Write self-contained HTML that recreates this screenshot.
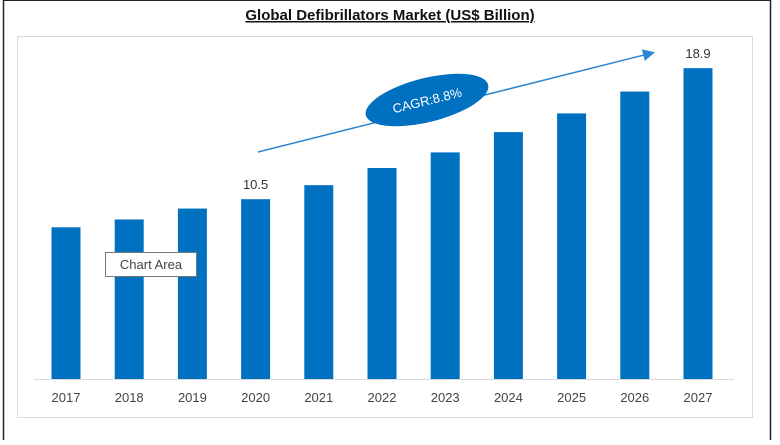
<!DOCTYPE html>
<html><head><meta charset="utf-8"><style>
body{margin:0;background:#fff;font-family:"Liberation Sans",sans-serif}
</style></head><body>
<svg width="780" height="440" xmlns="http://www.w3.org/2000/svg">
<line x1="3.5" y1="0" x2="3.5" y2="440" stroke="#222" stroke-width="1.5"/>
<line x1="770.5" y1="0" x2="770.5" y2="440" stroke="#222" stroke-width="1.5"/>
<line x1="3" y1="0.5" x2="771" y2="0.5" stroke="#222"/>
<rect x="17.5" y="36.5" width="735" height="381" fill="#fff" stroke="#d9d9d9"/>
<text x="390" y="20" text-anchor="middle" font-size="15" font-weight="bold" fill="#111" text-decoration="underline">Global Defibrillators Market (US$ Billion)</text>
<line x1="34" y1="379.5" x2="734" y2="379.5" stroke="#d9d9d9"/>
<g id="bars"></g>
<defs><marker id="ah" markerWidth="8" markerHeight="8" refX="6" refY="4" orient="auto"><path d="M0,0 L8,4 L0,8 z" fill="#2e86d0"/></marker></defs>
<line x1="258" y1="152" x2="652" y2="53" stroke="#2e86d0" stroke-width="1.5" marker-end="url(#ah)"/>
<ellipse cx="427" cy="100" rx="63" ry="22" fill="#0070c0" transform="rotate(-14 427 100)"/>
<text x="427" y="105" text-anchor="middle" font-size="13" fill="#fff" transform="rotate(-14 427 100)">CAGR:8.8%</text>
<g>
<rect x="105.5" y="252.5" width="91" height="24" fill="#fff" stroke="#777"/>
<text x="151" y="269" text-anchor="middle" font-size="13" fill="#444">Chart Area</text>
</g>
</svg>
<script>
const years=["2017","2018","2019","2020","2021","2022","2023","2024","2025","2026","2027"];
const values=[8.7,9.2,9.9,10.5,11.4,12.5,13.5,14.8,16.0,17.4,18.9];
const labeledValues=["","","","10.5","","","","","","","18.9"];
const NS="http://www.w3.org/2000/svg";
const base=379, pxPer=15.6, off=16;
function xC(i){return 66+i*63.2;}
function yV(v){return base-(off+v*pxPer);}
const g=document.getElementById('bars');
years.forEach((y,i)=>{
 const r=document.createElementNS(NS,'rect');
 r.setAttribute('x',xC(i)-14.5);r.setAttribute('y',yV(values[i]));
 r.setAttribute('width',29);r.setAttribute('height',base-yV(values[i]));
 r.setAttribute('fill','#0070c0');
 
 
 g.appendChild(r);
 const t=document.createElementNS(NS,'text');
 t.setAttribute('x',xC(i));t.setAttribute('y',402);t.setAttribute('text-anchor','middle');
 t.setAttribute('font-size','13');t.setAttribute('fill','#444');t.textContent=y;
 
 
 g.appendChild(t);
 if(labeledValues[i]){
  const l=document.createElementNS(NS,'text');
  l.setAttribute('x',xC(i));l.setAttribute('y',yV(values[i])-10);l.setAttribute('text-anchor','middle');
  l.setAttribute('font-size','13');l.setAttribute('fill','#333');l.textContent=labeledValues[i];
  
  
  g.appendChild(l);
 }
});
</script>
</body></html>
